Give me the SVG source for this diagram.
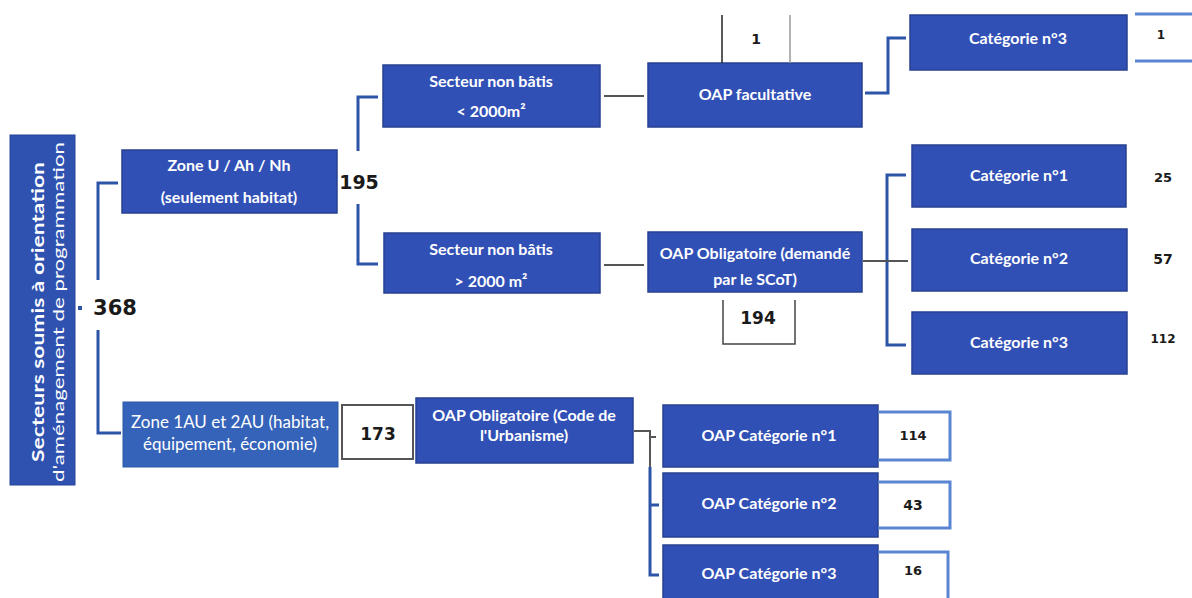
<svg xmlns="http://www.w3.org/2000/svg" width="1192" height="598" viewBox="0 0 1192 598">
<style>
.box{fill:#3150b5;stroke:#27408f;stroke-width:1.5}
.box2{fill:#3563b9;stroke:#2f58a8;stroke-width:1}
.bt{fill:#ffffff;font-family:Lato,"Liberation Sans",sans-serif;font-size:16px;font-weight:bold;text-anchor:middle}
.bt2{fill:#ffffff;font-family:Lato,"Liberation Sans",sans-serif;font-size:17px;text-anchor:middle}
.num{fill:#1a1a1a;font-family:"DejaVu Sans","Liberation Sans",sans-serif;font-weight:bold;text-anchor:middle}
.con{fill:none;stroke:#2c55a8;stroke-width:3}
.gray{fill:none;stroke:#555;stroke-width:2}
.lb{fill:none;stroke:#5a85d2;stroke-width:3}
.frame{fill:none;stroke:#444;stroke-width:1.5}
</style>
<rect width="1192" height="598" fill="#ffffff"/>
<g id="connectors">
<path class="con" d="M118,183 H98 V280 M98,330 V433 H121"/>
<rect x="78" y="306" width="4" height="4" fill="#2c55a8"/>
<path class="con" d="M378,97 H358 V151 M358,204 V264 H378"/>
<path class="gray" d="M604,96 H644"/>
<path class="gray" d="M604,265 H644"/>
<path class="con" d="M865,93 H888 V38 H906"/>
<path class="con" d="M906,175 H887 V345 H906"/>
<path class="gray" d="M863,261 H908"/>
<path class="gray" d="M634,431 H650 V468 M650,437 H656"/>
<path class="con" d="M650,467 V575 H659 M650,505 H659"/>
</g>
<g id="n-root">
<rect x="10" y="135" width="65" height="350" fill="#2f52b0" stroke="#264597" stroke-width="1"/>
<text transform="translate(44,312) rotate(-90)" fill="#ffffff" font-family="Lato,'Liberation Sans',sans-serif" font-size="17" font-weight="bold" text-anchor="middle" textLength="300" lengthAdjust="spacingAndGlyphs">Secteurs soumis à orientation</text>
<text transform="translate(64,312) rotate(-90)" fill="#ffffff" font-family="Lato,'Liberation Sans',sans-serif" font-size="16" text-anchor="middle" textLength="340" lengthAdjust="spacingAndGlyphs">d'aménagement de programmation</text>
</g>
<g id="n-368"><text class="num" x="115" y="315" font-size="21">368</text></g>
<g id="n-zoneU">
<rect class="box" x="122" y="150" width="215" height="63"/>
<text class="bt" x="229" y="171">Zone U / Ah / Nh</text>
<text class="bt" x="229" y="203">(seulement habitat)</text>
</g>
<g id="n-195"><text class="num" x="359" y="189" font-size="19">195</text></g>
<g id="n-sect1">
<rect class="box" x="383" y="65" width="217" height="62"/>
<text class="bt" x="491" y="87">Secteur non bâtis</text>
<text class="bt" x="491" y="117">&lt; 2000m²</text>
</g>
<g id="n-oapfac">
<rect class="box" x="648" y="63" width="214" height="64"/>
<text class="bt" x="755" y="100">OAP facultative</text>
</g>
<g id="n-1a">
<path d="M722,15 V63" stroke="#222" stroke-width="1.5" fill="none"/>
<path d="M790,15 V63" stroke="#999" stroke-width="1.5" fill="none"/>
<text class="num" x="756" y="44" font-size="14">1</text>
</g>
<g id="n-cat3a">
<rect class="box" x="910" y="15" width="217" height="55"/>
<text class="bt" x="1018" y="44">Catégorie n°3</text>
</g>
<g id="n-1b">
<path class="lb" d="M1135,14 H1192 M1135,61 H1192"/>
<text class="num" x="1161" y="39" font-size="12">1</text>
</g>
<g id="n-sect2">
<rect class="box" x="384" y="233" width="216" height="60"/>
<text class="bt" x="491" y="255">Secteur non bâtis</text>
<text class="bt" x="491" y="287">&gt; 2000 m²</text>
</g>
<g id="n-oapscot">
<rect class="box" x="648" y="232" width="214" height="60"/>
<text class="bt" x="755" y="259">OAP Obligatoire (demandé</text>
<text class="bt" x="755" y="285">par le SCoT)</text>
</g>
<g id="n-194">
<path class="frame" d="M723,300 V344 H795 V300"/>
<text class="num" x="758" y="324" font-size="17">194</text>
</g>
<g id="n-cat1">
<rect class="box" x="912" y="145" width="214" height="62"/>
<text class="bt" x="1019" y="181">Catégorie n°1</text>
</g>
<g id="n-cat2">
<rect class="box" x="912" y="229" width="215" height="62"/>
<text class="bt" x="1019" y="264">Catégorie n°2</text>
</g>
<g id="n-cat3b">
<rect class="box" x="912" y="312" width="215" height="62"/>
<text class="bt" x="1019" y="348">Catégorie n°3</text>
</g>
<g id="n-25"><text class="num" x="1163" y="182" font-size="13">25</text></g>
<g id="n-57"><text class="num" x="1163" y="264" font-size="14">57</text></g>
<g id="n-112"><text class="num" x="1163" y="343" font-size="12">112</text></g>
<g id="n-zone1AU">
<rect class="box2" x="123" y="402" width="215" height="65"/>
<text class="bt2" x="230" y="428">Zone 1AU et 2AU (habitat,</text>
<text class="bt2" x="230" y="450">équipement, économie)</text>
</g>
<g id="n-173">
<rect x="342" y="405" width="71" height="54" fill="#ffffff" stroke="#555" stroke-width="2"/>
<text class="num" x="378" y="440" font-size="17">173</text>
</g>
<g id="n-oapcode">
<rect class="box" x="416" y="398" width="217" height="65"/>
<text class="bt" x="524" y="421">OAP Obligatoire (Code de</text>
<text class="bt" x="524" y="441">l'Urbanisme)</text>
</g>
<g id="n-oapc1">
<rect class="box" x="663" y="405" width="215" height="62"/>
<text class="bt" x="769" y="441">OAP Catégorie n°1</text>
</g>
<g id="n-114">
<path class="lb" d="M878,412 H950 V460 H878"/>
<text class="num" x="913" y="440" font-size="13">114</text>
</g>
<g id="n-oapc2">
<rect class="box" x="663" y="473" width="215" height="64"/>
<text class="bt" x="769" y="509">OAP Catégorie n°2</text>
</g>
<g id="n-43">
<path class="lb" d="M878,482 H950 V528 H878"/>
<text class="num" x="913" y="510" font-size="14">43</text>
</g>
<g id="n-oapc3">
<rect class="box" x="663" y="545" width="215" height="60"/>
<text class="bt" x="769" y="579">OAP Catégorie n°3</text>
</g>
<g id="n-16">
<path class="lb" d="M878,552 H948 V600"/>
<text class="num" x="913" y="575" font-size="13">16</text>
</g>
</svg>
